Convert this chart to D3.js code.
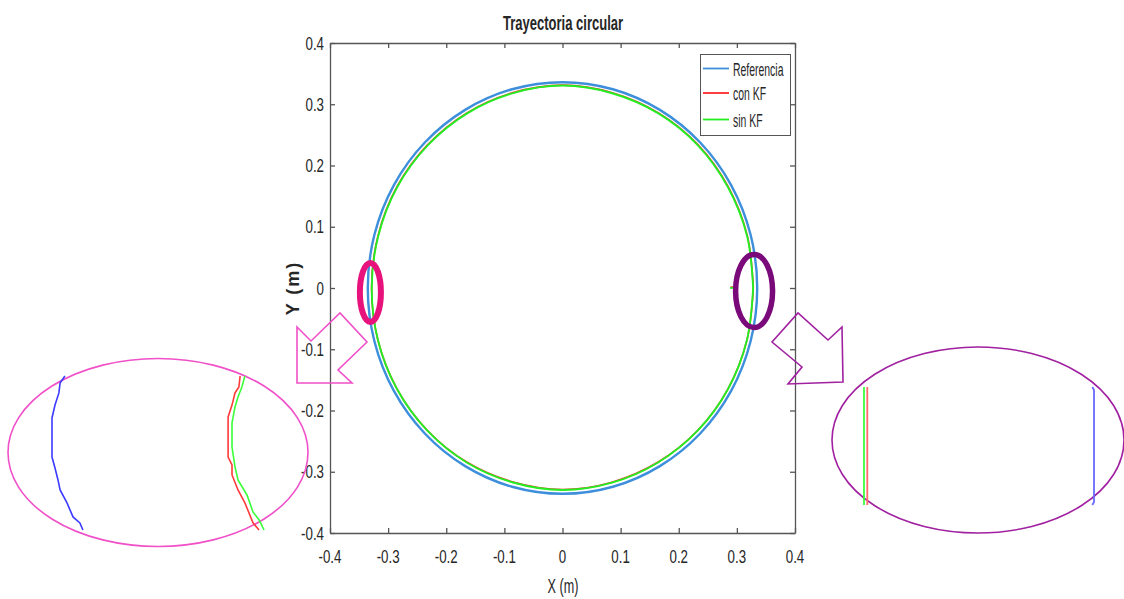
<!DOCTYPE html>
<html>
<head>
<meta charset="utf-8">
<script src="https://cdn.jsdelivr.net/npm/d3@7"></script>
<style>
  html, body { margin: 0; padding: 0; background: #fff; }
  svg { display: block; }
  text { font-family: "Liberation Sans", Arial, Helvetica, sans-serif; fill: #262626; }
</style>
</head>
<body>
<svg id="chart" width="1124" height="599"></svg>
<script>
// ---- Axis ticks ----
const xTickValues = [-0.4, -0.3, -0.2, -0.1, 0, 0.1, 0.2, 0.3, 0.4];
const xTickLabels = ["-0.4", "-0.3", "-0.2", "-0.1", "0", "0.1", "0.2", "0.3", "0.4"];
const yTickValues = [-0.4, -0.3, -0.2, -0.1, 0, 0.1, 0.2, 0.3, 0.4];
const yTickLabels = ["-0.4", "-0.3", "-0.2", "-0.1", "0", "0.1", "0.2", "0.3", "0.4"];

// ---- Series names ----
const seriesNames = ["Referencia", "con KF", "sin KF"];

// ---- Reference trajectory (m) ----
const refX = [0.3350, 0.3236, 0.2901, 0.2369, 0.1675, 0.0867, 0.0000, -0.0867, -0.1675, -0.2369, -0.2901, -0.3236,
              -0.3350, -0.3236, -0.2901, -0.2369, -0.1675, -0.0867, 0.0000, 0.0867, 0.1675, 0.2369, 0.2901, 0.3236];
const refY = [0.0000, 0.0869, 0.1680, 0.2375, 0.2908, 0.3245, 0.3360, 0.3245, 0.2908, 0.2375, 0.1680, 0.0869,
              0.0000, -0.0869, -0.1680, -0.2375, -0.2908, -0.3245, -0.3360, -0.3245, -0.2908, -0.2375, -0.1680, -0.0869];

// ---- Estimated trajectory with Kalman filter (m) ----
const kfX = [0.3283, 0.3178, 0.2848, 0.2333, 0.1651, 0.0856, 0.0005, -0.0851, -0.1643, -0.2323, -0.2848, -0.3173,
             -0.3285, -0.3177, -0.2852, -0.2332, -0.1649, -0.0851, 0.0000, 0.0853, 0.1647, 0.2328, 0.2850, 0.3175, 0.3283];
const kfY = [0.0006, 0.0860, 0.1658, 0.2338, 0.2859, 0.3189, 0.3313, 0.3190, 0.2860, 0.2336, 0.1653, 0.0858,
             0.0006, -0.0845, -0.1638, -0.2318, -0.2841, -0.3168, -0.3290, -0.3170, -0.2841, -0.2323, -0.1641, -0.0845, 0.0006];
const kfStartX = [0.2890, 0.2935];
const kfStartY = [0.0010, 0.0015];

// ---- Estimated trajectory without Kalman filter (m) ----
const noKfX = [0.3280, 0.3175, 0.2845, 0.2330, 0.1650, 0.0855, 0.0005, -0.0850, -0.1640, -0.2320, -0.2845, -0.3170,
               -0.3282, -0.3175, -0.2850, -0.2330, -0.1648, -0.0850, 0.0000, 0.0852, 0.1645, 0.2325, 0.2848, 0.3172, 0.3280];
const noKfY = [0.0000, 0.0852, 0.1650, 0.2330, 0.2850, 0.3180, 0.3305, 0.3182, 0.2852, 0.2328, 0.1645, 0.0850,
               0.0000, -0.0852, -0.1645, -0.2325, -0.2848, -0.3175, -0.3298, -0.3178, -0.2848, -0.2330, -0.1648, -0.0852, 0.0000];
const noKfStartX = [0.2885, 0.2930];
const noKfStartY = [0.0000, 0.0005];

// ---- Zoomed detail, left side (x near -0.33 m) ----
const leftRefX = [-0.33457, -0.33473, -0.33477, -0.3349, -0.3350, -0.3350, -0.3349, -0.3348, -0.33473, -0.3345, -0.3343, -0.33407, -0.33397];
const leftRefY = [0.0400, 0.0364, 0.0312, 0.0249, 0.0182, -0.0021, -0.0078, -0.0140, -0.0192, -0.0259, -0.0332, -0.0363, -0.0400];
const leftKfX = [-0.32873, -0.32877, -0.3289, -0.3290, -0.32913, -0.32913, -0.3290, -0.3290, -0.3288, -0.32857, -0.3283, -0.3281];
const leftKfY = [0.0400, 0.0343, 0.0312, 0.0249, 0.0187, -0.0021, -0.0062, -0.0114, -0.0192, -0.0259, -0.0363, -0.0400];
const leftNoKfX = [-0.32857, -0.32867, -0.3288, -0.3289, -0.3290, -0.3290, -0.3289, -0.3288, -0.3285, -0.3283, -0.3281, -0.32793];
const leftNoKfY = [0.0400, 0.0343, 0.0291, 0.0239, 0.0156, 0.0031, -0.0072, -0.0140, -0.0218, -0.0306, -0.0347, -0.0400];

// ---- Zoomed detail, right side (x near 0.33 m) ----
const rightRefX = [0.33495, 0.3350, 0.3350, 0.33495];
const rightRefY = [0.0300, 0.0285, -0.0285, -0.0300];
const rightKfX = [0.3281, 0.3281];
const rightKfY = [0.0300, -0.0300];
const rightNoKfX = [0.3280, 0.3280];
const rightNoKfY = [0.0300, -0.0300];

// ---- Highlighted regions (m) ----
const markLeft = { cx: -0.3305, cy: -0.0073, rx: 0.0181, ry: 0.0482 };
const markRight = { cx: 0.3296, cy: -0.0050, rx: 0.0318, ry: 0.0596 };

// ---- Colours ----
const cRef = "#3d8fdc", cKf = "#ff2a2a", cNoKf = "#22ee22";
const cPink = "#e8127c", cPinkLight = "#f050c8";
const cPurple = "#7a0a7a", cPurpleLight = "#a020a0";

const svg = d3.select("#chart");
const zip = (xs, ys) => xs.map((v, i) => [v, ys[i]]);

// Main axes
const x = d3.scaleLinear().domain([-0.4, 0.4]).range([330, 795]);
const y = d3.scaleLinear().domain([-0.4, 0.4]).range([533, 43]);

function txt(g, s, px, py, sx, opts = {}) {
  return g.append("text")
    .attr("transform", `translate(${px},${py}) scale(${sx},1)`)
    .attr("text-anchor", opts.anchor || "middle")
    .attr("font-size", opts.size || 18)
    .attr("font-weight", opts.weight || "normal")
    .text(s);
}

const axes = svg.append("g");
axes.append("rect")
  .attr("x", x(-0.4)).attr("y", y(0.4))
  .attr("width", x(0.4) - x(-0.4)).attr("height", y(-0.4) - y(0.4))
  .attr("fill", "#fff");

function styleAxis(g) {
  g.selectAll("path, line").attr("stroke", "#555").attr("stroke-width", 1.3);
  g.selectAll("text").remove();
}
axes.append("g").attr("transform", `translate(0,${y(-0.4)})`)
  .call(d3.axisBottom(x).tickValues(xTickValues).tickSizeInner(-5).tickSizeOuter(0)).call(styleAxis);
axes.append("g").attr("transform", `translate(0,${y(0.4)})`)
  .call(d3.axisTop(x).tickValues(xTickValues).tickSizeInner(-5).tickSizeOuter(0)).call(styleAxis);
axes.append("g").attr("transform", `translate(${x(-0.4)},0)`)
  .call(d3.axisLeft(y).tickValues(yTickValues).tickSizeInner(-5).tickSizeOuter(0)).call(styleAxis);
axes.append("g").attr("transform", `translate(${x(0.4)},0)`)
  .call(d3.axisRight(y).tickValues(yTickValues).tickSizeInner(-5).tickSizeOuter(0)).call(styleAxis);

xTickValues.forEach((v, i) => txt(axes, xTickLabels[i], x(v), 563, 0.72, { size: 18.5 }));
yTickValues.forEach((v, i) => txt(axes, yTickLabels[i], 324, y(v) + 6.5, 0.72, { size: 18.5, anchor: "end" }));

txt(svg, "Trayectoria circular", 563, 30, 0.62, { size: 21, weight: "bold" });
txt(svg, "X (m)", 563, 593, 0.6, { size: 21 });
svg.append("text")
  .attr("transform", "translate(299,288) rotate(-90)")
  .attr("text-anchor", "middle")
  .attr("font-size", 18).attr("font-weight", 600)
  .attr("letter-spacing", 2)
  .text("Y (m)");

// Trajectories
const closedLine = d3.line().x(d => x(d[0])).y(d => y(d[1])).curve(d3.curveCatmullRomClosed);
const openLine = d3.line().x(d => x(d[0])).y(d => y(d[1])).curve(d3.curveCatmullRom);
const plot = svg.append("g");
plot.append("path").attr("d", closedLine(zip(refX, refY)))
  .attr("fill", "none").attr("stroke", cRef).attr("stroke-width", 2.4);
plot.append("path").attr("d", openLine(zip(kfX, kfY)))
  .attr("fill", "none").attr("stroke", cKf).attr("stroke-width", 1.6);
plot.append("path").attr("d", openLine(zip(kfStartX, kfStartY)))
  .attr("fill", "none").attr("stroke", cKf).attr("stroke-width", 1.6);
plot.append("path").attr("d", openLine(zip(noKfX, noKfY)))
  .attr("fill", "none").attr("stroke", cNoKf).attr("stroke-width", 1.9);
plot.append("path").attr("d", openLine(zip(noKfStartX, noKfStartY)))
  .attr("fill", "none").attr("stroke", cNoKf).attr("stroke-width", 1.9);

// Legend
const lg = svg.append("g");
lg.append("rect").attr("x", 700.5).attr("y", 54.5).attr("width", 90).attr("height", 81)
  .attr("fill", "#fff").attr("stroke", "#555").attr("stroke-width", 1);
const legendColors = [cRef, cKf, cNoKf];
const legendRows = [68.5, 93, 119.5];
seriesNames.forEach((name, i) => {
  lg.append("line").attr("x1", 703).attr("x2", 729).attr("y1", legendRows[i]).attr("y2", legendRows[i])
    .attr("stroke", legendColors[i]).attr("stroke-width", 1.8);
  txt(lg, name, 733, legendRows[i] + 7, 0.58, { size: 18, anchor: "start" });
});

// Highlight ellipses on the plot
function mark(m, color, width) {
  svg.append("ellipse")
    .attr("cx", x(m.cx)).attr("cy", y(m.cy))
    .attr("rx", x(m.cx + m.rx) - x(m.cx)).attr("ry", y(m.cy) - y(m.cy + m.ry))
    .attr("fill", "none").attr("stroke", color).attr("stroke-width", width);
}
mark(markLeft, cPink, 6);
mark(markRight, cPurple, 5.5);

// Arrows pointing to the zoomed views
const arrowLeft = [[297, 327], [311, 341], [340, 313], [367, 342], [338, 370], [352, 383], [297, 383]];
const arrowRight = [[772, 342], [798, 313], [828, 340], [842, 327], [843, 382], [788, 384], [802, 367]];
svg.append("polygon").attr("points", arrowLeft.map(p => p.join(",")).join(" "))
  .attr("fill", "none").attr("stroke", cPinkLight).attr("stroke-width", 1.6).attr("stroke-linejoin", "miter");
svg.append("polygon").attr("points", arrowRight.map(p => p.join(",")).join(" "))
  .attr("fill", "none").attr("stroke", cPurpleLight).attr("stroke-width", 1.6).attr("stroke-linejoin", "miter");

// Zoomed view, left
const xl = d3.scaleLinear().domain([-0.3350, -0.3290]).range([52, 232]);
const yl = d3.scaleLinear().domain([0.04, -0.04]).range([376, 530]);
const lineL = d3.line().x(d => xl(d[0])).y(d => yl(d[1]));
svg.append("ellipse").attr("cx", 158).attr("cy", 452.5).attr("rx", 150).attr("ry", 94)
  .attr("fill", "none").attr("stroke", cPinkLight).attr("stroke-width", 1.6);
svg.append("path").attr("d", lineL(zip(leftRefX, leftRefY))).attr("fill", "none").attr("stroke", "#3b3bff").attr("stroke-width", 1.6);
svg.append("path").attr("d", lineL(zip(leftKfX, leftKfY))).attr("fill", "none").attr("stroke", "#ff3a3a").attr("stroke-width", 1.6);
svg.append("path").attr("d", lineL(zip(leftNoKfX, leftNoKfY))).attr("fill", "none").attr("stroke", "#3aff3a").attr("stroke-width", 1.6);

// Zoomed view, right
const xr = d3.scaleLinear().domain([0.3280, 0.3350]).range([864, 1094]);
const yr = d3.scaleLinear().domain([0.03, -0.03]).range([387, 505]);
const lineR = d3.line().x(d => xr(d[0])).y(d => yr(d[1]));
svg.append("ellipse").attr("cx", 978).attr("cy", 440).attr("rx", 146).attr("ry", 93)
  .attr("fill", "none").attr("stroke", cPurpleLight).attr("stroke-width", 1.6);
svg.append("path").attr("d", lineR(zip(rightRefX, rightRefY))).attr("fill", "none").attr("stroke", "#6a6aff").attr("stroke-width", 1.8);
svg.append("path").attr("d", lineR(zip(rightKfX, rightKfY))).attr("fill", "none").attr("stroke", "#ff6a6a").attr("stroke-width", 1.8);
svg.append("path").attr("d", lineR(zip(rightNoKfX, rightNoKfY))).attr("fill", "none").attr("stroke", "#3aff3a").attr("stroke-width", 1.8);
</script>
</body>
</html>
